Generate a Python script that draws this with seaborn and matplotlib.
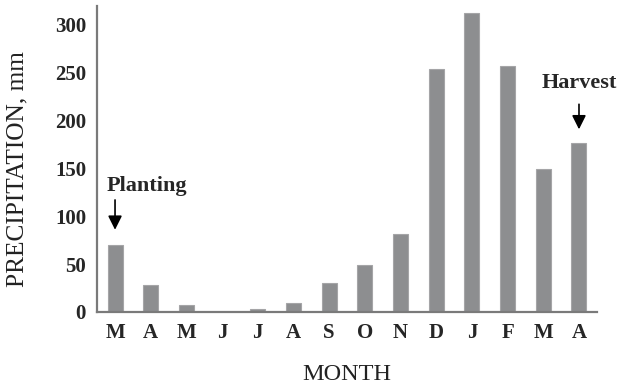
import numpy as np
import pandas as pd
import matplotlib
matplotlib.use("Agg")
import matplotlib.pyplot as plt
import seaborn as sns

months = ["M", "A", "M", "J", "J", "A", "S", "O", "N", "D", "J", "F", "M", "A"]
precip = [70, 28, 7, 0, 3, 9, 30, 49, 81, 254, 313, 257, 149, 177]

df = pd.DataFrame({"idx": np.arange(len(months)), "precip": precip})

sns.set_style("white")
plt.rcParams["font.family"] = ["Liberation Serif", "DejaVu Serif"]

fig = plt.figure(figsize=(6.23, 3.88), dpi=100)
ax = fig.add_axes([0.156, 0.196, 0.802, 0.789])

sns.barplot(data=df, x="idx", y="precip", color="#8d8e90", saturation=1,
            width=0.42, edgecolor="#a5a5a7", linewidth=0.8, ax=ax, native_scale=True)

ax.set_xlim(-0.5, len(months) - 0.5)
ax.set_ylim(0, 320)
ax.set_yticks(np.arange(0, 301, 50))
ax.set_xticks(np.arange(len(months)))
ax.set_xticklabels(months, fontweight="bold", fontsize=15)
ax.set_xticks(np.arange(len(months) + 1) - 0.5, minor=True)
for lab in ax.get_yticklabels():
    lab.set_fontweight("bold")
    lab.set_fontsize(15)

ax.tick_params(axis="x", which="major", length=0, pad=8)
ax.tick_params(axis="x", which="minor", length=4, width=1.3, color="#7a7a7a", direction="out")
ax.tick_params(axis="y", length=4, width=1.3, color="#7a7a7a", direction="out", pad=4)

for side in ["top", "right"]:
    ax.spines[side].set_visible(False)
for side in ["left", "bottom"]:
    ax.spines[side].set_color("#7a7a7a")
    ax.spines[side].set_linewidth(1.6)

ax.set_xlabel("MONTH", fontsize=17.5, labelpad=15, color="#222222")
ax.set_ylabel("PRECIPITATION, mm", fontsize=18.3, color="#222222")
ax.yaxis.set_label_coords(-0.138, 0.466)

arrow = dict(arrowstyle="-|>", color="black", lw=1.2, mutation_scale=21)
ax.annotate("", xy=(0, 83), xytext=(0, 120), arrowprops=arrow)
ax.text(-0.25, 132, "Planting", fontsize=16, fontweight="bold", ha="left", va="center")
ax.annotate("", xy=(13, 188), xytext=(13, 220), arrowprops=arrow)
ax.text(13, 239, "Harvest", fontsize=16, fontweight="bold", ha="center", va="center")

fig.savefig("out.png", dpi=100)
